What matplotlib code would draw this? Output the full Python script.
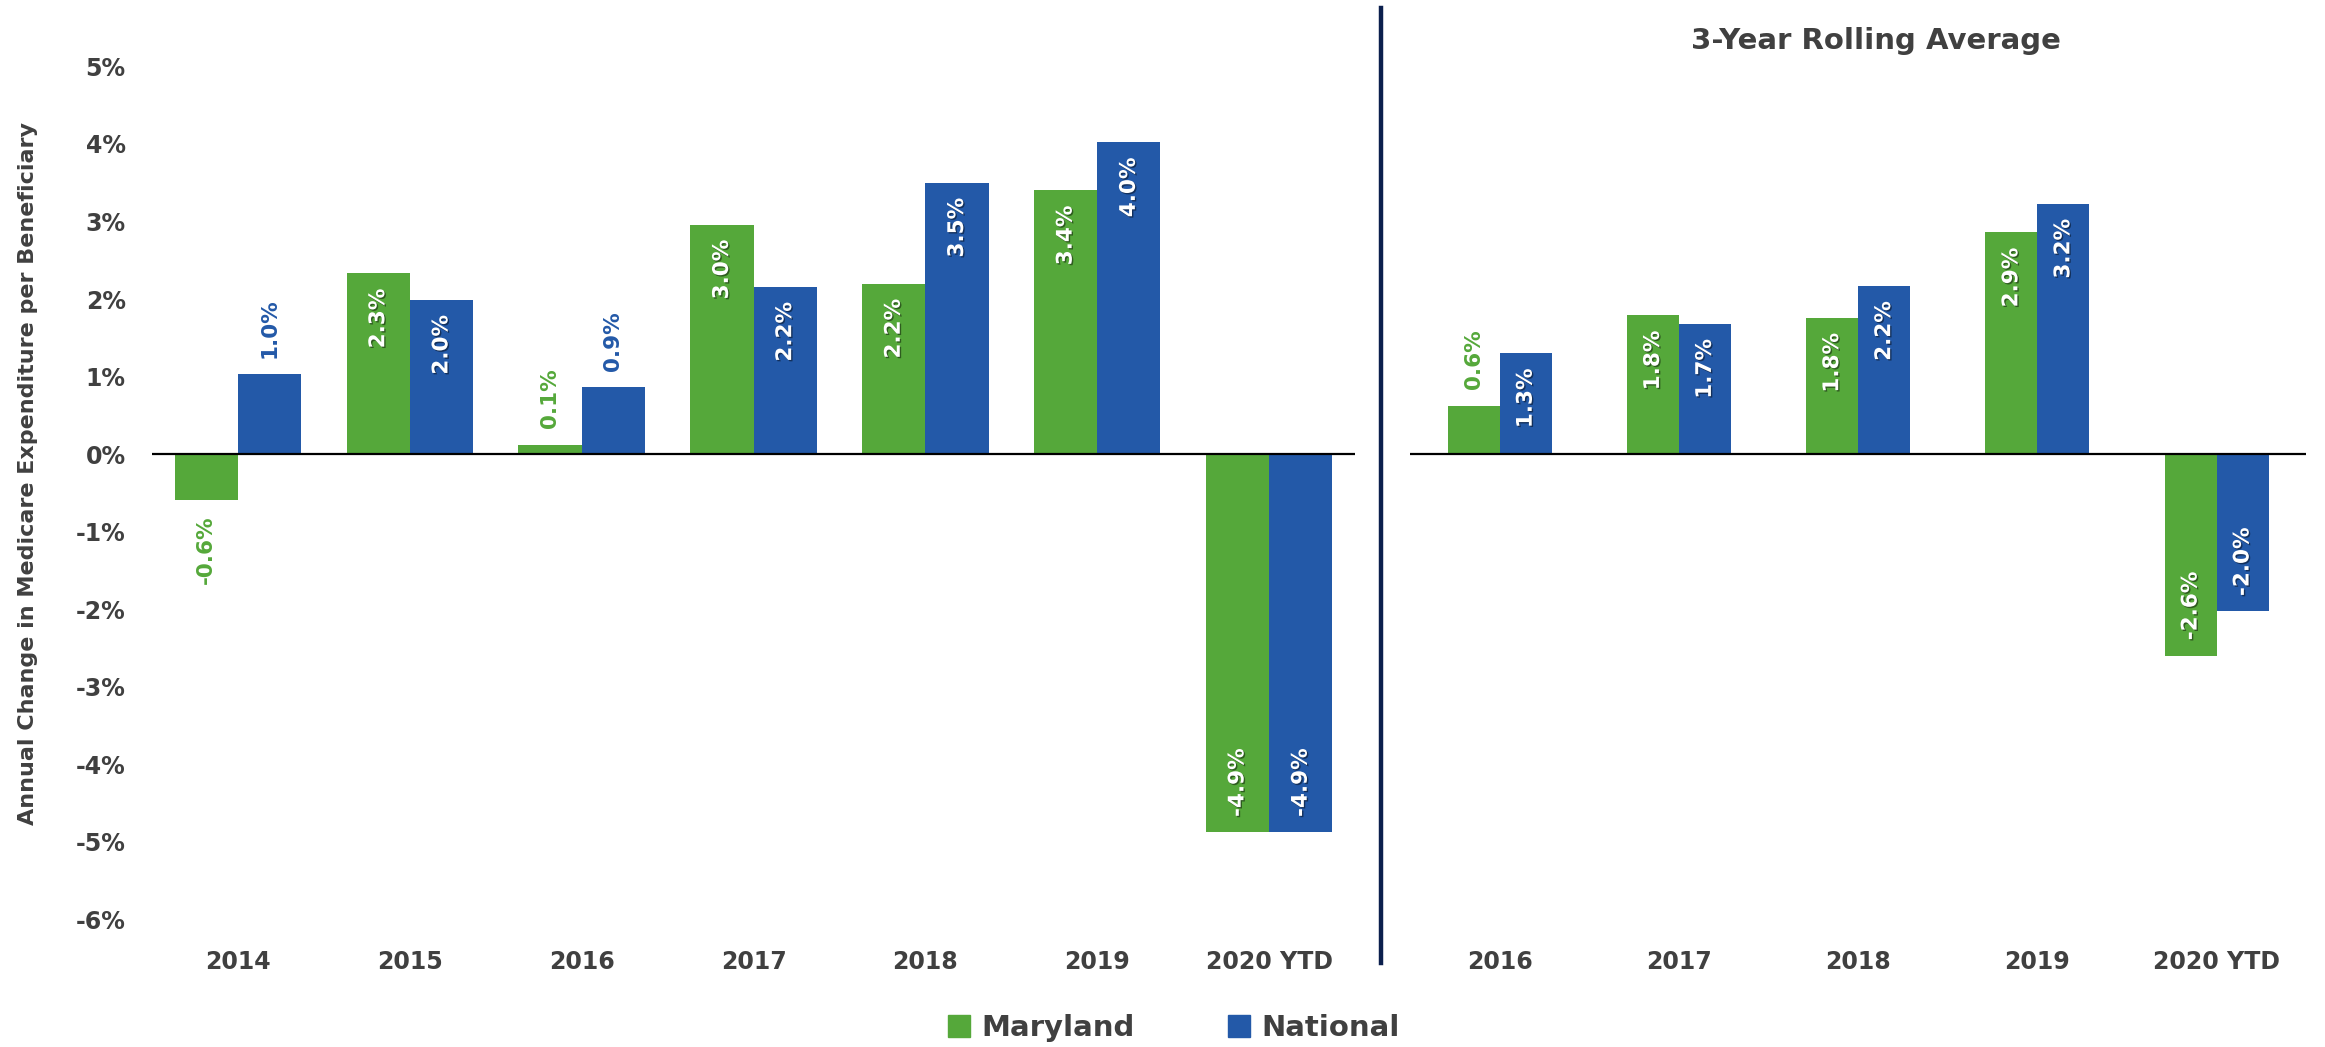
import matplotlib
matplotlib.use("Agg")
import matplotlib.pyplot as plt
import matplotlib.patheffects as pe
from matplotlib.ticker import FuncFormatter
from matplotlib.patches import Patch
import numpy as np

# ---- data ----
years = ["2014", "2015", "2016", "2017", "2018", "2019", "2020 YTD"]
maryland = [-0.59, 2.33, 0.12, 2.96, 2.20, 3.40, -4.88]
national = [1.03, 1.99, 0.86, 2.16, 3.50, 4.02, -4.88]

roll_years = ["2016", "2017", "2018", "2019", "2020 YTD"]
roll_maryland = [0.62, 1.79, 1.76, 2.86, -2.60]
roll_national = [1.30, 1.68, 2.17, 3.23, -2.03]

yticks = [-6, -5, -4, -3, -2, -1, 0, 1, 2, 3, 4, 5]

GREEN = "#55A83A"
BLUE = "#2359A8"
GRAY = "#404040"
NAVY = "#0B1F4D"

plt.rcParams["font.family"] = ["DejaVu Sans"]
plt.rcParams["font.weight"] = "bold"

fig = plt.figure(figsize=(23.25, 10.47), dpi=100)
ax1 = fig.add_axes([0.0654, 0.1222, 0.5174, 0.8143])
ax2 = fig.add_axes([0.6065, 0.1222, 0.3854, 0.8143])

shadow = [pe.withSimplePatchShadow(offset=(1, -1), shadow_rgbFace="black", alpha=0.45)]


def label(ax, x, v, color):
    txt = f"{v:.1f}%"
    inside = abs(v) >= 1.2
    if v >= 0:
        if inside:
            ax.annotate(txt, (x, v), xytext=(0, -11), textcoords="offset points",
                        rotation=90, ha="center", va="top", color="white",
                        fontsize=15.5, fontweight="bold", path_effects=shadow)
        else:
            ax.annotate(txt, (x, v), xytext=(0, 12), textcoords="offset points",
                        rotation=90, ha="center", va="bottom", color=color,
                        fontsize=15.5, fontweight="bold")
    else:
        if inside:
            ax.annotate(txt, (x, v), xytext=(0, 11), textcoords="offset points",
                        rotation=90, ha="center", va="bottom", color="white",
                        fontsize=15.5, fontweight="bold", path_effects=shadow)
        else:
            ax.annotate(txt, (x, v), xytext=(0, -11), textcoords="offset points",
                        rotation=90, ha="center", va="top", color=color,
                        fontsize=15.5, fontweight="bold")


def panel(ax, cats, md, nat, w):
    x = np.arange(len(cats))
    ax.bar(x - w / 2, md, w, color=GREEN, zorder=2)
    ax.bar(x + w / 2, nat, w, color=BLUE, zorder=2)
    for xi, v in zip(x, md):
        label(ax, xi - w / 2, v, GREEN)
    for xi, v in zip(x, nat):
        label(ax, xi + w / 2, v, BLUE)
    ax.axhline(0, color="black", lw=1.6, zorder=3)
    ax.set_xlim(-0.5, len(cats) - 0.5)
    ax.set_ylim(-6, 5)
    ax.set_xticks(x)
    ax.set_xticklabels(cats, fontsize=17, fontweight="bold", color=GRAY)
    ax.tick_params(axis="x", length=0, pad=22)
    for s in ax.spines.values():
        s.set_visible(False)


panel(ax1, years, maryland, national, 0.368)
panel(ax2, roll_years, roll_maryland, roll_national, 0.29)

ax1.set_yticks(yticks)
ax1.yaxis.set_major_formatter(FuncFormatter(lambda v, p: f"{int(v)}%"))
ax1.tick_params(axis="y", length=0, pad=19, labelsize=17, labelcolor=GRAY)
for t in ax1.get_yticklabels():
    t.set_fontweight("bold")
ax2.set_yticks([])

fig.text(0.012, 0.548, "Annual Change in Medicare Expenditure per Beneficiary",
         rotation=90, ha="center", va="center", fontsize=16, fontweight="bold", color=GRAY)

fig.text(0.807, 0.961, "3-Year Rolling Average", ha="center", va="center",
         fontsize=21, fontweight="bold", color=GRAY)

# divider line
fig.add_artist(plt.Line2D([0.594, 0.594], [0.080, 0.992], color=NAVY, lw=3.2,
                          transform=fig.transFigure))

handles = [Patch(color=GREEN, label="Maryland"), Patch(color=BLUE, label="National")]
fig.legend(handles=handles, loc="center", bbox_to_anchor=(0.505, 0.018), ncol=2,
           frameon=False, prop={"size": 21, "weight": "bold"}, labelcolor=GRAY,
           handlelength=0.75, handleheight=0.75, handletextpad=0.4, columnspacing=3.2)

fig.savefig("out.png", dpi=100)
